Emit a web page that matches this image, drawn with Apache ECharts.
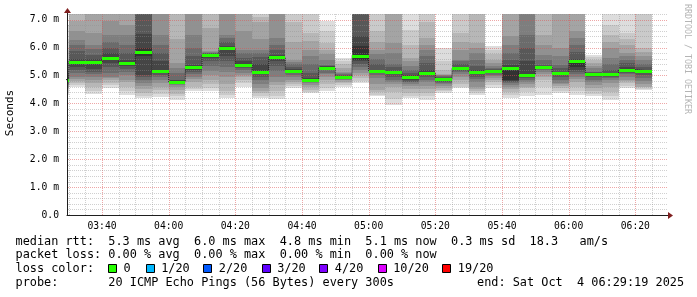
<!DOCTYPE html>
<html><head><meta charset="utf-8">
<script src="https://cdn.jsdelivr.net/npm/echarts@6/dist/echarts.min.js"></script>
<style>html,body{margin:0;padding:0;background:#fff}#c{width:697px;height:297px}</style>
</head><body><div id="c"></div>
<script>
// ---- data ----
const columnStart = ['03:25','03:30','03:35','03:40','03:45','03:50','03:55','04:00','04:05','04:10','04:15','04:20','04:25','04:30','04:35','04:40','04:45','04:50','04:55','05:00','05:05','05:10','05:15','05:20','05:25','05:30','05:35','05:40','05:45','05:50','05:55','06:00','06:05','06:10','06:15','06:20'];
const medianRtt = [4.85,5.49,5.47,5.62,5.45,5.85,5.17,4.77,5.29,5.72,5.97,5.38,5.12,5.65,5.17,4.85,5.27,4.94,5.71,5.16,5.11,4.93,5.10,4.87,5.25,5.13,5.16,5.27,5.03,5.30,5.07,5.50,5.06,5.06,5.21,5.15];
const lossCount = [0,0,0,0,0,0,0,0,0,0,0,0,0,0,0,0,0,0,0,0,0,0,0,0,0,0,0,0,0,0,0,0,0,0,0,0];
// 20 sorted ping times (ms) per column
const pingsSorted = [
[4.30,4.40,4.50,4.55,4.60,4.65,4.70,4.75,4.80,4.83,4.87,4.90,5.00,5.10,5.20,5.40,5.60,5.90,6.30,6.80],
[4.60,4.66,4.73,4.80,4.88,4.96,5.08,5.20,5.30,5.42,5.52,5.58,5.86,6.10,6.28,6.58,6.94,7.5,7.9,8.6],
[4.34,4.45,4.60,4.73,4.85,4.96,5.05,5.14,5.24,5.40,5.52,5.58,5.74,5.95,6.10,6.53,7.4,7.8,8.3,9.1],
[4.55,4.64,4.73,4.82,4.90,4.95,5.10,5.30,5.45,5.58,5.66,5.80,6.00,6.20,6.46,6.94,7.5,7.9,8.4,9.2],
[4.31,4.43,4.60,4.75,4.85,5.00,5.12,5.22,5.35,5.42,5.48,5.55,5.80,6.10,6.46,6.82,7.4,7.7,8.2,8.9],
[4.20,4.28,4.37,4.50,4.62,4.73,4.85,4.95,5.00,5.70,6.00,6.50,7.3,7.6,7.9,8.2,8.6,9.1,9.8,10.8],
[4.24,4.35,4.49,4.60,4.73,4.85,4.95,5.02,5.08,5.13,5.21,5.50,5.80,6.10,6.46,7.3,7.6,8.0,8.5,9.3],
[4.13,4.25,4.35,4.49,4.58,4.65,4.70,4.73,4.75,4.76,4.79,4.82,4.85,5.10,5.25,5.45,6.30,7.3,7.9,8.8],
[4.45,4.52,4.60,4.75,4.88,4.96,5.05,5.14,5.20,5.26,5.32,5.38,5.70,6.00,6.46,7.3,7.6,7.9,8.4,9.0],
[4.43,4.55,4.70,4.85,5.00,5.15,5.32,5.50,5.62,5.70,5.74,5.76,5.79,5.82,5.84,5.86,6.71,7.4,7.8,8.4],
[4.19,4.30,4.43,4.70,4.95,5.14,5.30,5.50,5.68,5.90,6.02,6.04,6.20,6.35,6.46,7.3,7.6,7.9,8.3,9.6],
[4.60,4.73,4.85,4.95,5.02,5.10,5.18,5.25,5.30,5.35,5.41,5.50,5.62,5.80,5.92,6.58,7.3,7.6,8.1,8.8],
[4.19,4.28,4.37,4.45,4.55,4.70,4.85,4.95,5.05,5.10,5.15,5.40,5.65,5.80,5.92,6.30,6.90,7.1,7.4,7.9],
[4.16,4.25,4.45,4.65,4.78,4.95,5.15,5.35,5.50,5.62,5.68,5.72,5.90,6.10,6.35,7.3,7.6,8.0,8.5,9.2],
[4.55,4.62,4.70,4.78,4.85,4.95,5.02,5.08,5.12,5.15,5.19,5.23,5.30,5.40,5.48,5.56,6.20,6.90,7.4,8.0],
[4.37,4.42,4.49,4.58,4.66,4.73,4.78,4.80,4.82,4.84,4.87,4.90,5.10,5.40,5.70,5.92,6.25,6.53,7.3,7.8],
[4.43,4.55,4.70,4.85,4.95,5.05,5.10,5.18,5.22,5.25,5.29,5.32,5.35,5.38,5.55,5.75,5.92,6.17,6.60,6.95],
[4.60,4.66,4.73,4.78,4.82,4.85,4.88,4.90,4.92,4.93,4.95,4.98,5.02,5.06,5.10,5.14,5.28,5.40,5.50,5.62],
[4.73,4.80,4.90,5.00,5.10,5.20,5.30,5.42,5.50,5.56,6.04,6.40,7.3,7.6,7.9,8.3,8.8,9.4,10.2,11.5],
[4.25,4.31,4.40,4.49,4.70,4.90,5.02,5.10,5.13,5.15,5.18,5.20,5.40,5.60,5.75,5.92,6.20,6.58,7.3,7.9],
[3.95,4.15,4.40,4.60,4.70,4.78,4.85,4.95,5.05,5.09,5.13,5.16,5.30,5.40,5.80,6.17,7.3,7.6,8.0,8.7],
[4.19,4.28,4.37,4.50,4.62,4.70,4.75,4.78,4.85,4.91,4.95,5.00,5.10,5.20,5.33,5.50,5.63,6.10,6.64,7.3],
[4.13,4.25,4.37,4.50,4.62,4.75,4.85,4.95,5.02,5.07,5.13,5.20,5.45,5.70,5.92,6.10,6.35,6.90,7.4,8.0],
[4.37,4.43,4.49,4.55,4.62,4.68,4.73,4.78,4.83,4.86,4.89,4.92,4.96,4.98,5.00,5.02,5.05,5.20,5.50,5.98],
[4.55,4.60,4.70,4.85,4.95,5.05,5.12,5.17,5.21,5.24,5.27,5.30,5.40,5.50,5.56,5.90,6.20,6.53,7.3,7.8],
[4.31,4.37,4.43,4.52,4.60,4.75,4.88,4.96,5.05,5.11,5.15,5.20,5.35,5.56,5.80,6.00,6.17,7.3,7.7,8.3],
[4.55,4.65,4.78,4.85,4.92,4.98,5.02,5.08,5.12,5.15,5.18,5.20,5.24,5.28,5.32,5.45,5.56,5.75,5.90,6.05],
[4.19,4.30,4.42,4.52,4.60,4.66,4.72,4.76,4.79,4.82,5.30,5.38,5.55,5.80,6.10,6.40,7.3,7.7,8.2,8.9],
[4.25,4.40,4.55,4.60,4.70,4.78,4.85,4.92,4.98,5.01,5.05,5.50,6.00,6.46,7.3,7.6,8.0,8.5,9.1,9.9],
[4.31,4.60,4.85,4.95,5.05,5.12,5.18,5.22,5.26,5.28,5.32,5.35,5.38,5.55,5.74,6.10,6.46,7.3,7.7,8.3],
[4.37,4.45,4.55,4.62,4.68,4.73,4.85,4.95,5.02,5.05,5.09,5.14,5.25,5.38,5.70,6.00,7.3,7.6,8.0,8.6],
[4.31,4.45,4.60,4.75,4.88,4.96,5.05,5.12,5.20,5.30,5.55,5.60,5.85,6.10,6.35,6.58,7.3,7.6,8.1,8.7],
[4.25,4.35,4.45,4.55,4.65,4.75,4.85,4.96,5.01,5.04,5.08,5.10,5.12,5.14,5.25,5.35,5.45,5.56,5.65,5.74],
[4.13,4.25,4.40,4.60,4.72,4.82,4.90,4.96,5.00,5.04,5.08,5.10,5.20,5.40,5.63,6.00,6.20,6.46,6.82,7.3],
[4.55,4.62,4.72,4.80,4.85,4.95,5.05,5.10,5.16,5.19,5.23,5.30,5.45,5.56,5.70,5.80,6.10,6.30,6.53,7.3],
[4.49,4.53,4.57,4.60,4.70,4.80,4.90,5.00,5.08,5.13,5.17,5.20,5.30,5.42,5.56,5.70,5.85,6.00,7.3,7.8]
];
const yTickLabels = ['0.0','1.0 m','2.0 m','3.0 m','4.0 m','5.0 m','6.0 m','7.0 m'];
const xTickLabels = ['03:40','04:00','04:20','04:40','05:00','05:20','05:40','06:00','06:20'];
const lossLegendLabels = ['0','1/20','2/20','3/20','4/20','10/20','19/20'];
const lossLegendColors = ['#26ff00','#00b8ff','#0059ff','#5e00ff','#7e00ff','#dd00ff','#ff0000'];
const lossThresholds = [0,1,2,3,4,10,19];
const statLines = [
  'median rtt:  5.3 ms avg  6.0 ms max  4.8 ms min  5.1 ms now  0.3 ms sd  18.3   am/s',
  'packet loss: 0.00 % avg  0.00 % max  0.00 % min  0.00 % now'
];
const probeText = 'probe:       20 ICMP Echo Pings (56 Bytes) every 300s';
const endText = 'end: Sat Oct  4 06:29:19 2025';

// ---- helpers ----
const STEP = 5;
const X_MIN = 209.5, X_MAX = 389.5, X_TICK = 0.5, Y_MAX = 7.2, Y_TICK = 0.2;
const toMin = s => { const [h, m] = s.split(':').map(Number); return h * 60 + m; };
const fmtTime = v => String(Math.floor(v / 60)).padStart(2, '0') + ':' + String(v % 60).padStart(2, '0');
const greys = [221,202,183,164,145,126,107,88,69,50].map(g => 'rgb(' + g + ',' + g + ',' + g + ')');
const MONO = '"DejaVu Sans Mono", monospace';
function lossColor(n) {
  let c = lossLegendColors[0];
  for (let i = 0; i < lossThresholds.length; i++) if (n >= lossThresholds[i]) c = lossLegendColors[i];
  return c;
}

const smokeData = columnStart.map((t, i) => [toMin(t)].concat(pingsSorted[i]));
const medianData = columnStart.map((t, i) => [toMin(t), medianRtt[i], lossCount[i]]);
const stepData = medianData.map(d => [d[0], d[1]]);
stepData.push([toMin(columnStart[columnStart.length - 1]) + STEP, medianRtt[medianRtt.length - 1]]);

function colEdges(params, api, t0) {
  const cs = params.coordSys;
  let x0 = Math.round(api.coord([t0, 0])[0]);
  let x1 = Math.round(api.coord([t0 + STEP, 0])[0]);
  x0 = Math.max(x0, cs.x + 1);
  x1 = Math.min(x1, cs.x + cs.width);
  return [x0, x1];
}
function renderSmoke(params, api) {
  const t0 = api.value(0);
  const [x0, x1] = colEdges(params, api, t0);
  const children = [];
  if (x1 <= x0) return { type: 'group', children };
  for (let i = 0; i < 10; i++) {
    const lo = Math.min(api.value(1 + i), Y_MAX);
    const hi = Math.min(api.value(20 - i), Y_MAX);
    const yT = Math.round(api.coord([t0, hi])[1]);
    const yB = Math.round(api.coord([t0, lo])[1]);
    if (yB - yT <= 0) continue;
    children.push({ type: 'rect', shape: { x: x0, y: yT, width: x1 - x0, height: yB - yT }, style: { fill: greys[i] } });
  }
  return { type: 'group', children };
}
function renderMedian(params, api) {
  const t0 = api.value(0);
  const [x0, x1] = colEdges(params, api, t0);
  const y = Math.round(api.coord([t0, api.value(1)])[1]);
  return { type: 'rect', shape: { x: x0, y: y - 1, width: Math.max(0, x1 - x0), height: 3 }, style: { fill: lossColor(api.value(2)) } };
}

const chart = echarts.init(document.getElementById('c'), null, { renderer: 'canvas', width: 697, height: 297 });
chart.setOption({
  animation: false,
  backgroundColor: '#ffffff',
  grid: { left: 67, right: 30, top: 14, bottom: 82, containLabel: false, outerBoundsMode: 'none', show: false },
  xAxis: {
    type: 'value', min: X_MIN, max: X_MAX, interval: X_TICK, z: 3,
    axisLine: { show: true, onZero: false, lineStyle: { color: '#1f1f1f', width: 1 } },
    axisTick: { show: false },
    axisLabel: { show: true, margin: 6, color: '#000', fontFamily: MONO, fontSize: 9.7, hideOverlap: false,
      showMinLabel: true, showMaxLabel: true,
      formatter: v => { const r = Math.round(v); if (Math.abs(v - r) > 1e-6) return ''; const s = fmtTime(r); return xTickLabels.indexOf(s) >= 0 ? s : ''; } },
    splitLine: { show: false }
  },
  yAxis: {
    type: 'value', min: 0, max: Y_MAX, interval: Y_TICK, z: 3,
    axisLine: { show: true, onZero: false, lineStyle: { color: '#1f1f1f', width: 1 } },
    axisTick: { show: false },
    axisLabel: { show: true, margin: 8, color: '#000', fontFamily: MONO, fontSize: 9.7, hideOverlap: false,
      formatter: v => { const r = Math.round(v); return Math.abs(v - r) < 1e-6 && yTickLabels[r] ? yTickLabels[r] : ''; } },
    splitLine: { show: false }
  },
  series: [
    { type: 'custom', name: 'smoke', z: 1, renderItem: renderSmoke, data: smokeData,
      encode: { x: 0, y: [1, 20] }, silent: true },
    { type: 'line', name: 'medianStep', z: 4, step: 'end', data: stepData, showSymbol: false, symbol: 'none',
      lineStyle: { color: '#202020', width: 1, type: [1, 1] }, silent: true },
    { type: 'custom', name: 'median', z: 5, renderItem: renderMedian, data: medianData, encode: { x: 0, y: 1 }, silent: true }
  ]
});

// ---- grid (drawn over the smoke, as rrdtool does), positions from the chart's own scales ----
const MINOR = 'rgba(143,143,143,0.42)';
const MAJOR = 'rgba(222,79,79,0.5)';
const graphics = [];
const gx0 = Math.round(chart.convertToPixel({ xAxisIndex: 0 }, X_MIN));
const gx1 = Math.round(chart.convertToPixel({ xAxisIndex: 0 }, X_MAX)) + 1;
const gy0 = Math.round(chart.convertToPixel({ yAxisIndex: 0 }, 0));
const gy1 = Math.round(chart.convertToPixel({ yAxisIndex: 0 }, Y_MAX));
for (let t = Math.ceil(X_MIN / STEP) * STEP; t < X_MAX; t += STEP) {
  const px = Math.round(chart.convertToPixel({ xAxisIndex: 0 }, t)) + 0.5;
  const major = t % 20 === 0;
  graphics.push({ type: 'line', z: 3, silent: true, shape: { x1: px, y1: gy1, x2: px, y2: gy0 },
    style: { stroke: major ? MAJOR : MINOR, lineWidth: 1, lineDash: [1, 1] } });
}
for (let k = 1; k * Y_TICK <= Y_MAX + 1e-9; k++) {
  const v = k * Y_TICK;
  const py = Math.round(chart.convertToPixel({ yAxisIndex: 0 }, v)) + 0.5;
  const major = k % 5 === 0;
  graphics.push({ type: 'line', z: 3, silent: true, shape: { x1: gx0 + 1, y1: py, x2: gx1, y2: py },
    style: { stroke: major ? MAJOR : MINOR, lineWidth: 1, lineDash: [1, 1] } });
}
// axis extensions and arrows
graphics.push({ type: 'line', z: 10, shape: { x1: 67.5, y1: 14, x2: 67.5, y2: 11 }, style: { stroke: '#1f1f1f', lineWidth: 1 } });
graphics.push({ type: 'polygon', z: 10, shape: { points: [[64, 13], [71, 13], [67.5, 8]] }, style: { fill: '#801f1f' } });
graphics.push({ type: 'line', z: 10, shape: { x1: 667, y1: 215.5, x2: 669, y2: 215.5 }, style: { stroke: '#1f1f1f', lineWidth: 1 } });
graphics.push({ type: 'polygon', z: 10, shape: { points: [[668, 212], [668, 219], [673, 215.5]] }, style: { fill: '#801f1f' } });
// axis title and watermark
graphics.push({ type: 'text', x: 10, y: 113, rotation: Math.PI / 2,
  style: { text: 'Seconds', x: 0, y: 0, font: '11px ' + MONO, fill: '#000', align: 'center', verticalAlign: 'middle', textAlign: 'center', textVerticalAlign: 'middle' } });
graphics.push({ type: 'text', x: 687, y: 59, rotation: -Math.PI / 2,
  style: { text: 'RRDTOOL / TOBI OETIKER', x: 0, y: 0, font: '8.3px ' + MONO, fill: '#b4b4b4', align: 'center', verticalAlign: 'middle', textAlign: 'center', textVerticalAlign: 'middle' } });
// legend text
const BFONT = '11.86px ' + MONO;
const lineY = [241.5, 255, 269, 282.7];
statLines.forEach((s, i) => graphics.push({ type: 'text', style: { text: s, x: 15.5, y: lineY[i], font: BFONT, fill: '#000', verticalAlign: 'middle', textVerticalAlign: 'middle' } }));
graphics.push({ type: 'text', style: { text: 'loss color:', x: 15.5, y: lineY[2], font: BFONT, fill: '#000', verticalAlign: 'middle', textVerticalAlign: 'middle' } });
const sqX = [108, 145.7, 203.3, 261.7, 319.3, 377.7, 442.3];
lossLegendLabels.forEach((lab, i) => {
  graphics.push({ type: 'rect', shape: { x: Math.round(sqX[i]) + 0.5, y: 264.5, width: 8, height: 8 }, style: { fill: lossLegendColors[i], stroke: '#000', lineWidth: 1 } });
  graphics.push({ type: 'text', style: { text: lab, x: sqX[i] + 15.5, y: lineY[2], font: BFONT, fill: '#000', verticalAlign: 'middle', textVerticalAlign: 'middle' } });
});
graphics.push({ type: 'text', style: { text: probeText, x: 15.5, y: lineY[3], font: BFONT, fill: '#000', verticalAlign: 'middle', textVerticalAlign: 'middle' } });
graphics.push({ type: 'text', style: { text: endText, x: 477, y: lineY[3], font: BFONT, fill: '#000', verticalAlign: 'middle', textVerticalAlign: 'middle' } });

chart.setOption({ graphic: { elements: graphics } });
</script></body></html>
